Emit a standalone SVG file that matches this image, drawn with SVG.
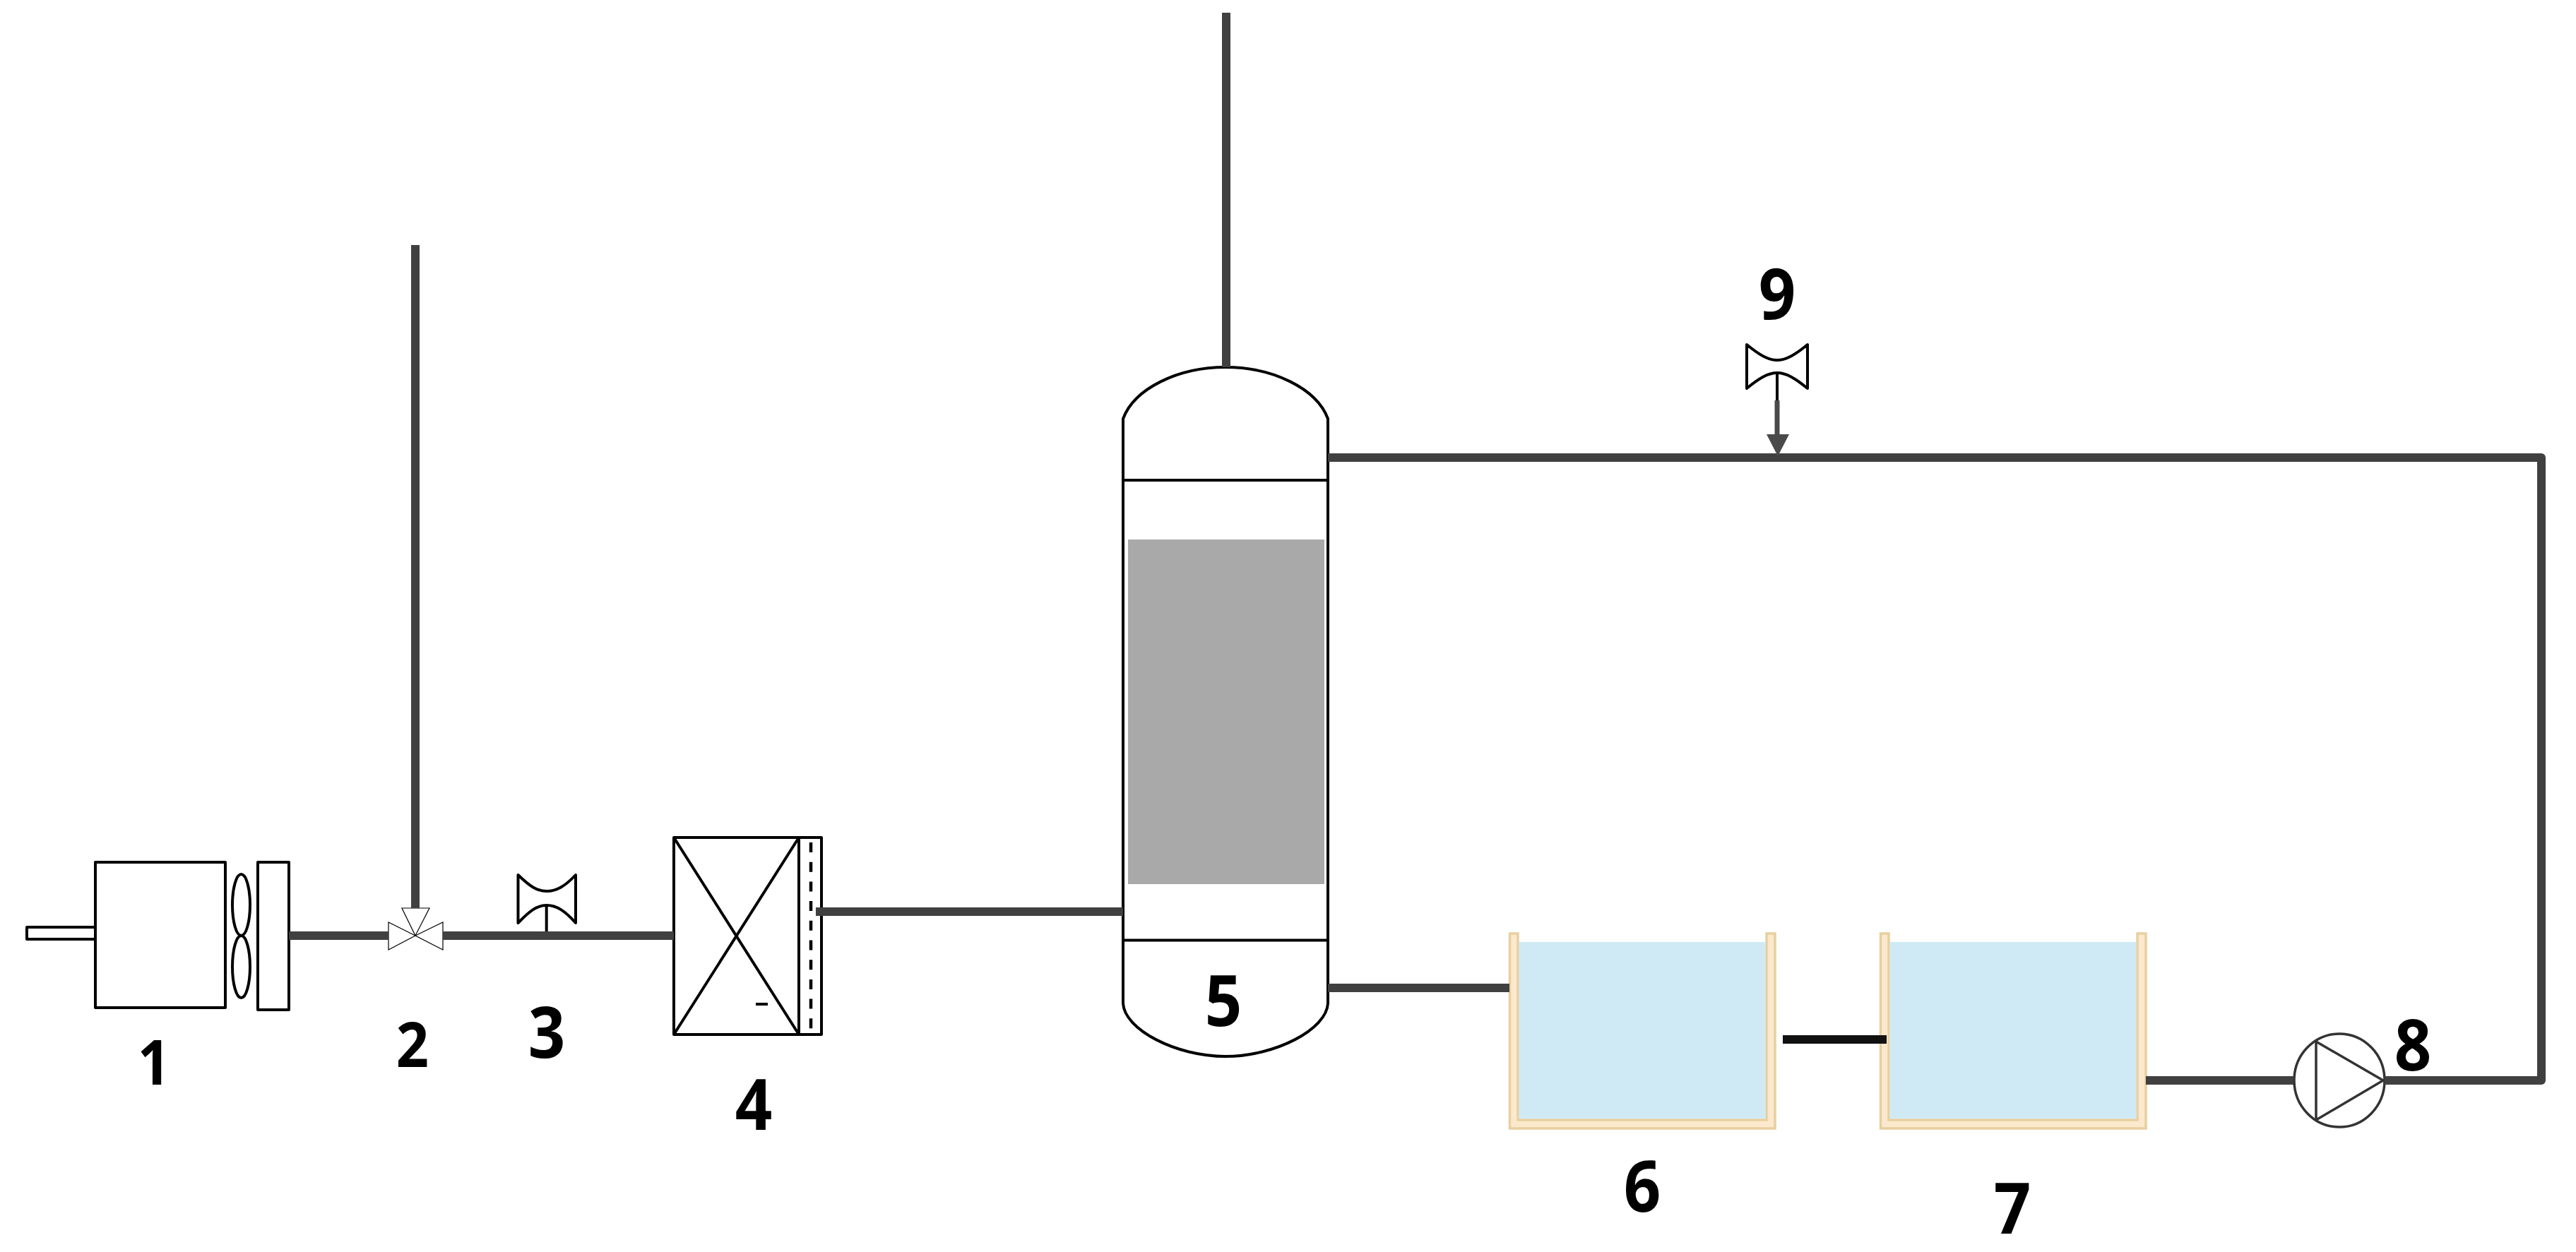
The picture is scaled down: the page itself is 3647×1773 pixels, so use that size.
<svg xmlns="http://www.w3.org/2000/svg" width="3647" height="1773" viewBox="0 0 3647 1773">
<style>
.o{fill:#fff;stroke:#000;stroke-width:4;stroke-linejoin:round}
.v{fill:#fff;stroke:#000;stroke-width:1.2;stroke-linejoin:miter}
.l{fill:none;stroke:#000;stroke-width:4}
.p{fill:none;stroke:#404040;stroke-width:12;stroke-linejoin:round}
.wall{fill:#fce8cc;stroke:#e8cfa0;stroke-width:3.5}
.water{fill:#cfeaf5}
.pm{fill:#fff;stroke:#333;stroke-width:3.5;stroke-linejoin:round}
text{font-family:"Open Sans","Noto Sans","Liberation Sans",sans-serif;font-weight:700;fill:#000;text-anchor:middle}
.b{font-size:100px}
.s{font-size:88px}
</style>
<rect width="3647" height="1773" fill="#fff"/>
<g id="node-1">
<rect class="o" x="38" y="1313" width="97" height="17"/>
<rect class="o" x="135" y="1221" width="184" height="206"/>
<ellipse class="o" cx="341.500" cy="1281.500" rx="12.500" ry="43.500"/>
<ellipse class="o" cx="341.500" cy="1369" rx="12.500" ry="44"/>
<rect class="o" x="365" y="1221" width="44" height="209"/>
<text class="s" transform="translate(218 1536) scale(.92 1)">1</text>
</g>
<g id="node-2">
<path class="v" d="M588 1325L550 1306V1345Z"/>
<path class="v" d="M588 1325L627 1306V1345Z"/>
<path class="v" d="M588 1325L569 1286H608Z"/>
<text class="s" transform="translate(584 1511) scale(.92 1)">2</text>
</g>
<g id="node-3">
<path class="o" d="M733.500 1239C750 1255 760 1262 774 1262C788 1262 800 1255 815 1239V1307C800 1290 788 1282 774 1282C760 1282 750 1290 733.500 1307Z"/>
<path class="l" d="M773.700 1282V1325"/>
<text class="b" transform="translate(774 1498) scale(.92 1)">3</text>
</g>
<g id="node-4">
<rect class="o" x="954" y="1186" width="209" height="279"/>
<path class="l" d="M1131 1186V1465M954 1186L1131 1465M1131 1186L954 1465"/>
<path class="l" d="M1148 1193V1458" stroke-dasharray="14 13.700" style="stroke-width:4.500"/>
<path class="l" d="M1070 1422H1087"/>
<text class="b" transform="translate(1067 1600) scale(.92 1)">4</text>
</g>
<g id="node-5">
<path class="o" d="M1590 593C1606 550 1668 520 1735 520C1802 520 1864 550 1880 593V1421C1878 1458 1805 1496 1735 1496C1665 1496 1592 1458 1590 1421Z"/>
<rect x="1597" y="764" width="278" height="488" fill="#a9a9a9"/>
<path class="l" d="M1590 680H1880M1590 1331.500H1880"/>
<text class="b" transform="translate(1732 1453) scale(.92 1)">5</text>
</g>
<g id="node-6">
<path class="wall" d="M2137.500 1322H2149V1586H2501V1322H2513V1598H2137.500Z"/>
<rect class="water" x="2150.500" y="1334" width="349" height="250"/>
<text class="b" transform="translate(2325 1716) scale(.92 1)">6</text>
</g>
<g id="node-7">
<path class="wall" d="M2662.500 1322H2674V1586H3026V1322H3038V1598H2662.500Z"/>
<rect class="water" x="2675.500" y="1334" width="349" height="250"/>
<text class="b" transform="translate(2849 1747) scale(.92 1)">7</text>
</g>
<g id="node-8">
<ellipse class="pm" cx="3312" cy="1530" rx="64" ry="66"/>
<path class="pm" d="M3279 1475L3374 1530L3279 1586Z"/>
<text class="b" transform="translate(3416 1516) scale(.92 1)">8</text>
</g>
<g id="node-9">
<path class="o" d="M2473 488C2490 502 2503 510 2516 510C2529 510 2542 502 2559 488V550C2542 536 2529 528 2516 528C2503 528 2490 536 2473 550Z"/>
<path class="l" d="M2516 528V567"/>
<text class="b" transform="translate(2516 452) scale(.92 1)">9</text>
</g>
<g id="connectors">
<path class="p" d="M588 347V1286"/>
<path class="p" d="M409 1325H550"/>
<path class="p" d="M627 1325H954"/>
<path class="p" d="M1155 1291H1590"/>
<path class="p" d="M1736 18V520"/>
<path class="p" d="M1880 1399H2137"/>
<path class="p" d="M2524 1472H2671" style="stroke:#111"/>
<path class="p" d="M3038 1530H3247"/>
<path class="p" d="M3376 1530H3598V648H1880"/>
<path d="M2516 567V616" fill="none" stroke="#4a4a4a" stroke-width="7"/>
<path d="M2501 615H2533L2517 646Z" fill="#4a4a4a"/>
</g>
</svg>
